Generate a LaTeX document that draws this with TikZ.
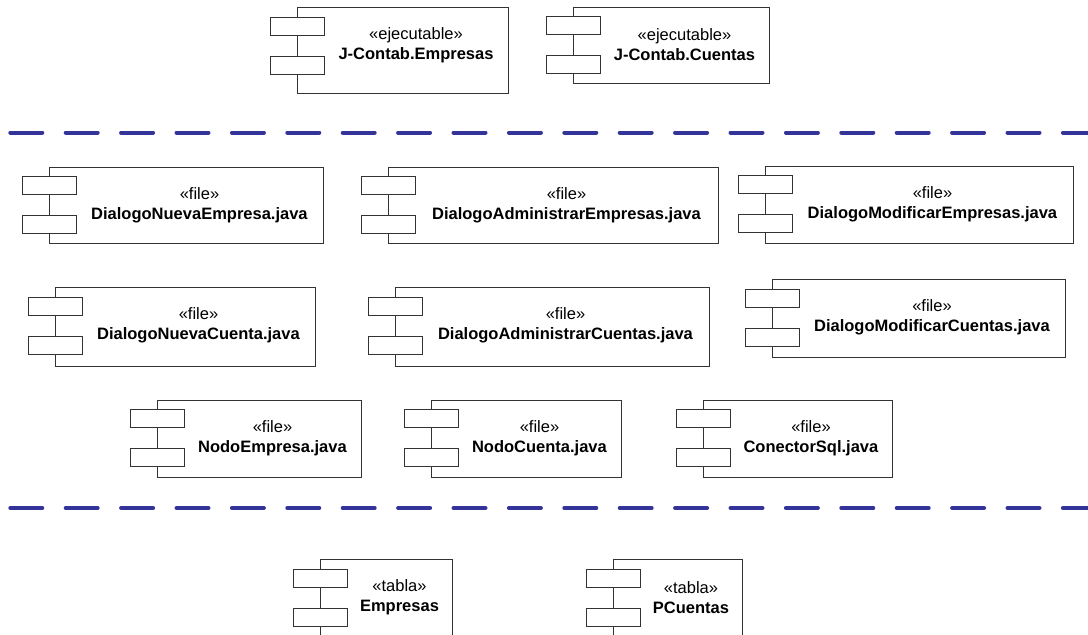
\documentclass[tikz,border=0pt]{standalone}
\usepackage{fontspec}
\setmainfont{Liberation Sans}

\definecolor{azulsep}{RGB}{51,51,153}

% #1 nombre, #2 borde izq., #3 arriba, #4 borde der., #5 abajo, #6 estereotipo, #7 nombre visible
\newcommand\componente[7]{%
  \node[caja,minimum width={(#4-#2)*1pt},minimum height={(#5-#3)*1pt}] (#1) at (#2,#3) {};
  \node[puerto] (#1-p1) at (#2,#3+18.5) {};
  \node[puerto] (#1-p2) at (#2,#3+57.5) {};
  \node[rotulo] (#1-txt) at ({(#2+27+#4)/2},#3+38) {«#6»\\\textbf{#7}};
}

\begin{document}
\begin{tikzpicture}[x=1pt,y=-1pt,
  caja/.style={draw=black!80,line width=0.9pt,anchor=north west,inner sep=0pt,outer sep=0pt},
  puerto/.style={draw=black!80,fill=white,line width=0.9pt,minimum width=54pt,minimum height=18pt,inner sep=0pt},
  rotulo/.style={align=center,inner sep=0pt,font=\fontsize{16.5}{20}\selectfont},
  separador/.style={draw=azulsep,line width=4pt,line cap=round,dash pattern=on 32pt off 23.4pt}]
\useasboundingbox (0,0) rectangle (1088,635);
\clip (0,0) rectangle (1088,635);

\componente{empresasExe}{297}{7.5}{508}{93}{ejecutable}{J-Contab.Empresas}
\componente{cuentasExe}{573}{7}{769}{83}{ejecutable}{J-Contab.Cuentas}

\draw[separador] (10.3,132.5) -- (1088,132.5);

\componente{nuevaEmpresa}{49}{167}{323}{243}{file}{DialogoNuevaEmpresa.java}
\componente{adminEmpresas}{388}{167}{718}{243}{file}{DialogoAdministrarEmpresas.java}
\componente{modifEmpresas}{765}{166}{1073}{243}{file}{DialogoModificarEmpresas.java}

\componente{nuevaCuenta}{55}{287.5}{315}{366}{file}{DialogoNuevaCuenta.java}
\componente{adminCuentas}{395}{287.5}{709}{366}{file}{DialogoAdministrarCuentas.java}
\componente{modifCuentas}{772}{279.5}{1065}{357}{file}{DialogoModificarCuentas.java}

\componente{nodoEmpresa}{157}{400}{361}{477}{file}{NodoEmpresa.java}
\componente{nodoCuenta}{431}{400}{621}{477}{file}{NodoCuenta.java}
\componente{conector}{703}{400}{892}{477}{file}{ConectorSql.java}

\draw[separador] (10.3,508) -- (1088,508);

\componente{tablaEmpresas}{320}{559.5}{452}{640}{tabla}{Empresas}
\componente{tablaCuentas}{613}{559.5}{742}{640}{tabla}{PCuentas}
\end{tikzpicture}
\end{document}
